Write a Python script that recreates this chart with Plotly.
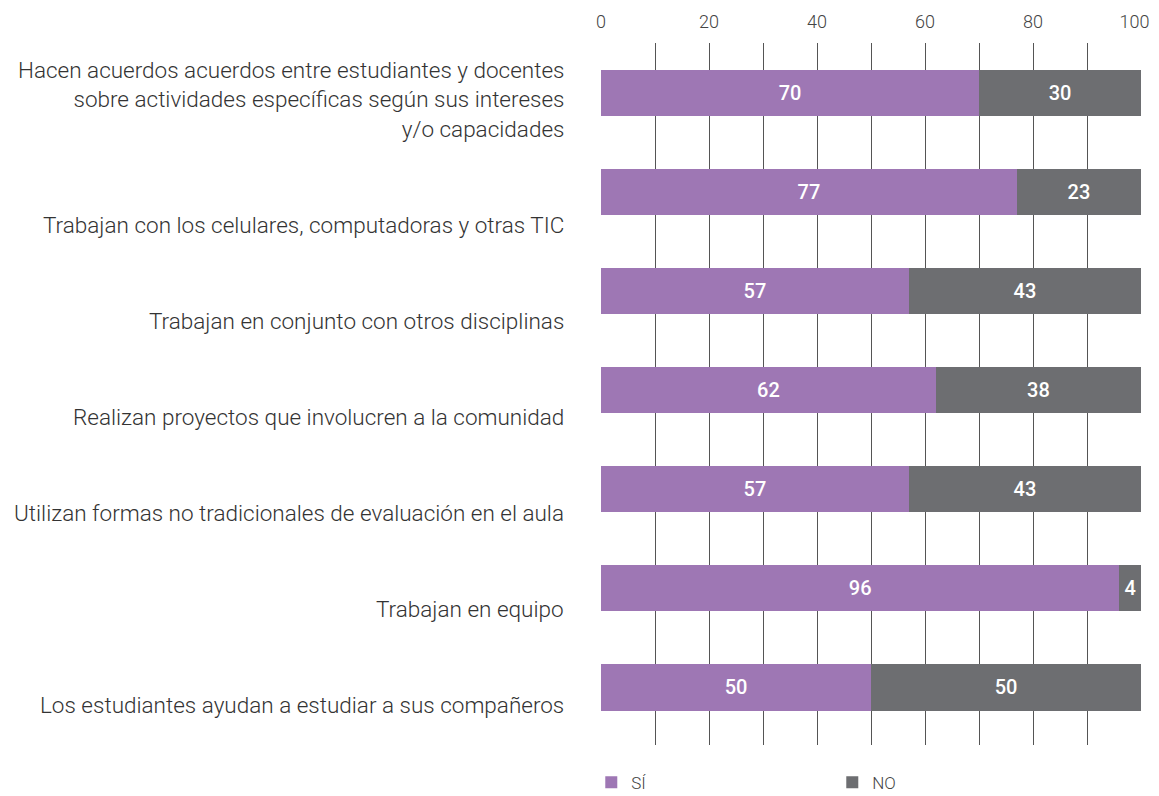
import plotly.graph_objects as go

categorias = [
    "Hacen acuerdos acuerdos entre estudiantes y docentes<br>sobre actividades específicas según sus intereses<br>y/o capacidades",
    "Trabajan con los celulares, computadoras y otras TIC",
    "Trabajan en conjunto con otros disciplinas",
    "Realizan proyectos que involucren a la comunidad",
    "Utilizan formas no tradicionales de evaluación en el aula",
    "Trabajan en equipo",
    "Los estudiantes ayudan a estudiar a sus compañeros",
]
si = [70, 77, 57, 62, 57, 96, 50]
no = [30, 23, 43, 38, 43, 4, 50]
ticks_x = [0, 20, 40, 60, 80, 100]

PURPLE = "#9e77b4"
GRAY = "#6d6e71"
ids = list(range(len(categorias)))

fig = go.Figure()
for name, vals, color in [("SÍ", si, PURPLE), ("NO", no, GRAY)]:
    fig.add_trace(go.Bar(
        y=ids,
        x=vals,
        name=name,
        orientation="h",
        width=0.465,
        marker=dict(color=color, line=dict(width=0)),
        text=vals,
        textposition="inside",
        insidetextanchor="middle",
        textfont=dict(family="Roboto", size=20, color="white", weight=500),
        cliponaxis=False,
    ))

# labels are spaced a bit tighter than the bars, so they use their own hidden axis
for i, cat in enumerate(categorias):
    fig.add_annotation(
        x=0, xref="paper", y=i, yref="y2",
        text=cat, showarrow=False,
        xanchor="right", yanchor="bottom", align="right",
        xshift=-35, yshift=-15,
        font=dict(family="Roboto", size=22.5, color="#333333", weight=300),
    )

# last tick label padded so it is not clipped at the window edge
ticktext = [str(t) for t in ticks_x[:-1]] + [str(ticks_x[-1]) + "\u00a0\u00a0\u00a0"]

# the page body has an 8px margin, so the figure is 8px smaller and margins shifted
fig.update_layout(
    barmode="stack",
    width=1151,
    height=788,
    plot_bgcolor="white",
    paper_bgcolor="white",
    margin=dict(l=593, r=18, t=35, b=51, autoexpand=False),
    uniformtext=dict(minsize=20, mode="show"),
    showlegend=True,
    legend=dict(
        orientation="h",
        traceorder="normal",
        x=-0.018, xanchor="left",
        y=-0.028, yanchor="top",
        entrywidth=196, entrywidthmode="pixels",
        font=dict(family="Roboto", size=17, color="#444444", weight=300),
        itemsizing="constant",
    ),
    xaxis=dict(
        side="top",
        range=[0, 100],
        tickvals=ticks_x,
        ticktext=ticktext,
        ticklabeloverflow="allow",
        tickfont=dict(family="Roboto", size=18, color="#444444", weight=300),
        ticks="",
        ticklabelstandoff=10,
        showgrid=True,
        gridcolor="#555555",
        gridwidth=1,
        minor=dict(dtick=10, showgrid=True, gridcolor="#555555", gridwidth=1),
        zeroline=False,
        showline=False,
        automargin=False,
        fixedrange=True,
    ),
    yaxis=dict(
        range=[len(categorias) - 0.42, -0.5],
        showticklabels=False,
        showgrid=False,
        zeroline=False,
        showline=False,
        automargin=False,
        fixedrange=True,
    ),
    yaxis2=dict(
        overlaying="y",
        range=[6.42, -0.9],
        visible=False,
        showgrid=False,
        zeroline=False,
        fixedrange=True,
    ),
)

fig.write_html("out.html")
